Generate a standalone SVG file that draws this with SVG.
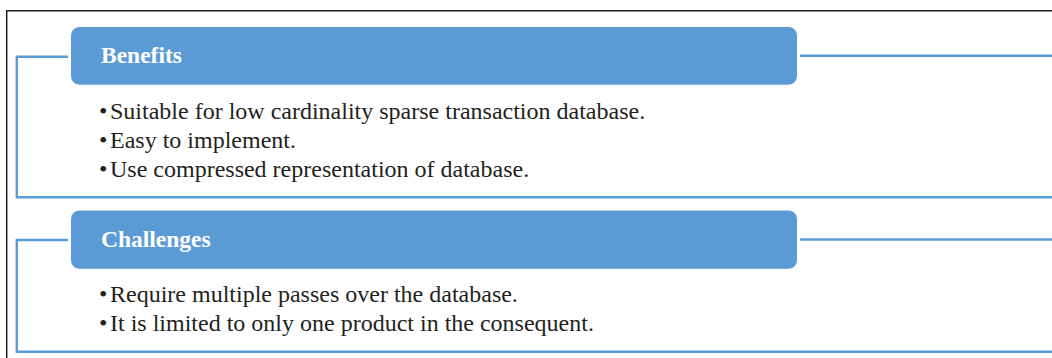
<svg xmlns="http://www.w3.org/2000/svg" width="1052" height="358" viewBox="0 0 1052 358">
<style>
.frame{fill:none;stroke:#231f20;stroke-width:1.5}
.br{fill:none;stroke:#5b9bd5;stroke-width:2.4}
.hdr{fill:#5b9bd5;stroke:#ffffff;stroke-width:1}
.ht{font-family:"Liberation Serif",serif;font-weight:bold;font-size:23.5px;fill:#ffffff}
.bt{font-family:"Liberation Serif",serif;font-size:24px;fill:#231f20}
</style>
<rect width="1052" height="358" fill="#ffffff"/>
<path class="frame" d="M1053,10.7 H6.7 V359"/>
<g id="connectors">
<path class="br" d="M68,56.8 H16.8 V197.3 H1053"/>
<path class="br" d="M800,55.8 H1053"/>
<path class="br" d="M68,240 H16.8 V351.7 H1053"/>
<path class="br" d="M800,239.5 H1053"/>
</g>
<g id="benefits">
<rect class="hdr" x="70.5" y="26.5" width="727" height="58.7" rx="9"/>
<text class="ht" x="101" y="63.3">Benefits</text>
</g>
<g id="benefits-list">
<text class="bt" x="99" y="119">•</text><text class="bt" x="110" y="119">Suitable for low cardinality sparse transaction database.</text>
<text class="bt" x="99" y="148">•</text><text class="bt" x="110" y="148">Easy to implement.</text>
<text class="bt" x="99" y="177">•</text><text class="bt" x="110" y="177">Use compressed representation of database.</text>
</g>
<g id="challenges">
<rect class="hdr" x="70.5" y="210" width="727" height="59.3" rx="9"/>
<text class="ht" x="101" y="246.7">Challenges</text>
</g>
<g id="challenges-list">
<text class="bt" x="99" y="302">•</text><text class="bt" x="110" y="302">Require multiple passes over the database.</text>
<text class="bt" x="99" y="331">•</text><text class="bt" x="110" y="331">It is limited to only one product in the consequent.</text>
</g>
</svg>
